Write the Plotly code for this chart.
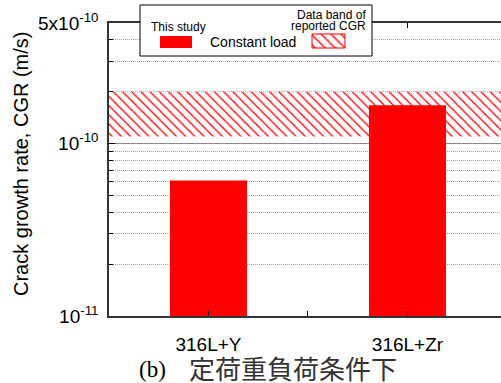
import math
import plotly.graph_objects as go

# ---- data ----
categories = ["316L+Y", "316L+Zr"]
cgr_constant_load = [6.1e-11, 1.67e-10]          # m/s, this study
band_low = 1.1e-10                                 # reported CGR band
band_high = 2.0e-10
y_tick_vals = [1e-11, 1e-10, 5e-10]
y_tick_text = ["10<sup>-11</sup>", "10<sup>-10</sup>", "5x10<sup>-10</sup>"]
y_minor_vals = [2e-11, 3e-11, 4e-11, 5e-11, 6e-11, 7e-11, 8e-11, 9e-11,
                2e-10, 3e-10, 4e-10]
legend_study = "This study"
legend_bar = "Constant load"
legend_band = ["Data band of", "reported CGR"]
y_title = "Crack growth rate, CGR (m/s)"
caption_label = "(b)"
caption_text = "定荷重負荷条件下"

W, H = 501, 383
FONT = "Arial, Liberation Sans, sans-serif"
RED = "#ff0000"

x_pos = list(range(len(categories)))
x_lo, x_hi = -0.5, 1.47

fig = go.Figure()

# reported data band (hatched) as a wide bar spanning the whole axis
fig.add_trace(go.Bar(
    x=[(x_lo + x_hi) / 2], y=[band_high - band_low], base=[band_low], width=[4],
    marker=dict(color="white", line=dict(width=0),
                pattern=dict(shape="\\", fgcolor=RED, bgcolor="white", size=6.5, solidity=0.2)),
    hoverinfo="skip", showlegend=False))

# bars
fig.add_trace(go.Bar(
    x=x_pos, y=cgr_constant_load, width=0.387,
    marker=dict(color=RED, line=dict(width=0)),
    showlegend=False))

# ---- manual legend on a pixel overlay subplot ----
def rect(x0, y0, x1, y1, **kw):
    return go.Scatter(x=[x0, x1, x1, x0, x0], y=[y0, y0, y1, y1, y0],
                      xaxis="x2", yaxis="y2", mode="lines", fill="toself",
                      hoverinfo="skip", showlegend=False, **kw)

fig.add_trace(rect(140, 5, 372, 56, fillcolor="white", line=dict(color="black", width=1)))
fig.add_trace(rect(160, 36, 192, 48, fillcolor=RED, line=dict(color=RED, width=0)))
fig.add_trace(rect(312, 34, 345, 48, fillcolor="white",
                   fillpattern=dict(shape="\\", fgcolor=RED, bgcolor="white", size=7, solidity=0.2),
                   line=dict(color=RED, width=1)))

annotations = [
    dict(x=149, y=27, text=legend_study, xanchor="left", yanchor="middle",
         font=dict(family=FONT, size=12, color="black")),
    dict(x=208, y=42, text=legend_bar, xanchor="left", yanchor="middle",
         font=dict(family=FONT, size=14, color="black")),
    dict(x=368, y=15, text=legend_band[0], xanchor="right", yanchor="middle",
         font=dict(family=FONT, size=12, color="black")),
    dict(x=368, y=26, text=legend_band[1], xanchor="right", yanchor="middle",
         font=dict(family=FONT, size=12, color="black")),
    dict(x=21, y=164, text=y_title, textangle=-90, xanchor="center", yanchor="middle",
         font=dict(family=FONT, size=20, color="black")),
    dict(x=152, y=369, text=caption_label, xanchor="center", yanchor="middle",
         font=dict(family="Liberation Serif, DejaVu Serif, serif", size=23, color="black")),
    dict(x=292.5, y=367, text=caption_text, xanchor="center", yanchor="middle",
         font=dict(family="Noto Sans CJK JP", size=26, color="#333")),
]
for a in annotations:
    a.update(xref="x2", yref="y2", showarrow=False)

fig.update_layout(
    template="none",
    width=W, height=H,
    margin=dict(l=0, r=0, t=0, b=0, pad=0),
    paper_bgcolor="white", plot_bgcolor="rgba(0,0,0,0)",
    showlegend=False, barmode="overlay",
    annotations=annotations,
    xaxis=dict(
        domain=[109 / W, 1.0], range=[x_lo, x_hi], automargin=False,
        tickmode="array", tickvals=[0, 0.5, 1], ticktext=[categories[0], "", categories[1]],
        ticks="inside", ticklen=5, tickcolor="black", tickwidth=1,
        showline=True, linecolor="#333", linewidth=1.5, mirror="ticks",
        showgrid=False, zeroline=False,
        tickfont=dict(family=FONT, size=19, color="black"), ticklabelstandoff=10,
        anchor="y"),
    yaxis=dict(
        type="log", domain=[(H - 316) / H, (H - 23) / H], automargin=False,
        range=[-11, math.log10(5e-10)],
        tickmode="array", tickvals=y_tick_vals, ticktext=y_tick_text,
        ticks="inside", ticklen=6, tickcolor="black", tickwidth=1,
        showline=True, linecolor="#333", linewidth=1.5, mirror=False,
        showgrid=True, gridcolor="#8a8a8a", gridwidth=1,
        zeroline=False,
        minor=dict(tickmode="array", tickvals=y_minor_vals, ticks="inside", ticklen=4,
                   tickcolor="black", showgrid=True, gridcolor="#a0a0a0",
                   griddash="1px,1px", gridwidth=1),
        tickfont=dict(family=FONT, size=19, color="black"), ticklabelstandoff=5,
        anchor="x"),
    xaxis2=dict(domain=[0, 1], range=[0, W], visible=False, anchor="y2",
                fixedrange=True, automargin=False),
    yaxis2=dict(domain=[0, 1], range=[H, 0], visible=False, anchor="x2",
                fixedrange=True, automargin=False),
)

fig.write_html("out.html")
